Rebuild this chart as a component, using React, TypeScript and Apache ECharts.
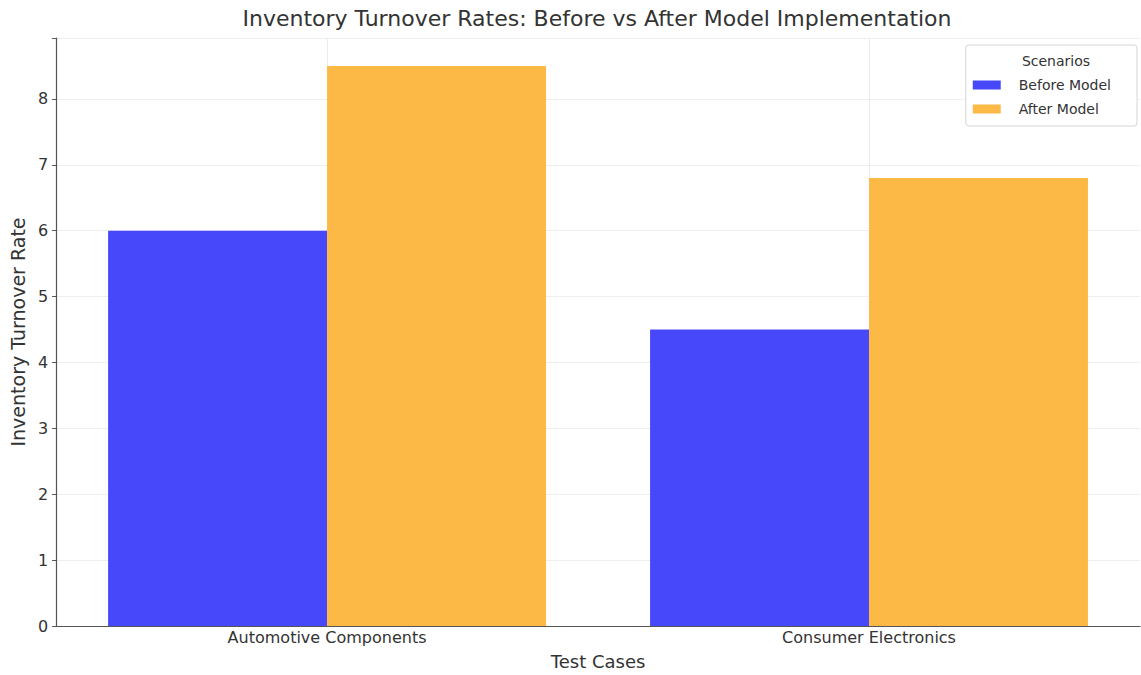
import React, { useEffect, useRef } from "react";
import * as echarts from "echarts";

const categories = ["Automotive Components", "Consumer Electronics"];
const beforeModel = [6.0, 4.5];
const afterModel = [8.5, 6.8];
const seriesNames = ["Before Model", "After Model"];
const yTicks = [0, 1, 2, 3, 4, 5, 6, 7, 8];

const FONT = "DejaVu Sans";

export default function App() {
  const ref = useRef<HTMLDivElement>(null);

  useEffect(() => {
    if (!ref.current) return;
    const chart = echarts.init(ref.current, undefined, { renderer: "svg" });
    const yMax = 8.925;
    chart.setOption({
      animation: false,
      backgroundColor: "#ffffff",
      textStyle: { fontFamily: FONT },
      title: {
        text: "Inventory Turnover Rates: Before vs After Model Implementation",
        left: 597,
        textAlign: "center",
        top: 7,
        padding: 0,
        textStyle: { fontFamily: FONT, fontSize: 22, fontWeight: "normal", color: "#333" },
      },
      legend: {
        data: seriesNames,
        orient: "vertical",
        right: 4,
        top: 45,
        padding: [33, 26, 10, 7],
        itemGap: 10,
        itemWidth: 28,
        itemHeight: 9,
        icon: "rect",
        borderColor: "#d6d6d6",
        borderWidth: 1,
        borderRadius: 3,
        backgroundColor: "rgba(255,255,255,0.85)",
        textStyle: { fontFamily: FONT, fontSize: 14, color: "#333", padding: [0, 0, 0, 13] },
      },
      graphic: [
        {
          type: "text",
          x: 1056,
          y: 61,
          z: 100,
          style: {
            text: "Scenarios",
            align: "center",
            verticalAlign: "middle",
            fontFamily: FONT,
            fontSize: 14,
            fill: "#333",
          },
        },
      ],
      grid: { left: 55, right: 1, top: 38, bottom: 49 },
      xAxis: {
        type: "category",
        data: categories,
        name: "Test Cases",
        nameLocation: "middle",
        nameGap: 26,
        nameTextStyle: { fontFamily: FONT, fontSize: 18, color: "#333" },
        axisLine: { lineStyle: { color: "#555", width: 1.2 } },
        axisTick: { alignWithLabel: true, length: 4, lineStyle: { color: "#555" } },
        axisLabel: { fontFamily: FONT, fontSize: 16, color: "#333", margin: 3 },
        splitLine: { show: false },
      },
      yAxis: {
        type: "value",
        min: 0,
        max: yMax,
        interval: 1,
        name: "Inventory Turnover Rate",
        nameLocation: "middle",
        nameGap: 28,
        nameTextStyle: { fontFamily: FONT, fontSize: 19, color: "#333" },
        axisLine: { show: true, lineStyle: { color: "#555", width: 1.2 } },
        axisTick: { show: true, length: 4, lineStyle: { color: "#555" } },
        axisLabel: {
          fontFamily: FONT,
          fontSize: 16,
          color: "#333",
          margin: 8,
          formatter: (v: number) => (yTicks.includes(v) ? String(v) : ""),
        },
        splitLine: { show: true, lineStyle: { color: "#efefef", width: 1 } },
      },
      series: [
        {
          // carries the vertical grid lines at each category centre
          name: "grid",
          type: "line",
          data: [],
          silent: true,
          z: 1,
          markLine: {
            silent: true,
            symbol: "none",
            z: 1,
            label: { show: false },
            lineStyle: { color: "#ececec", type: "solid", width: 1 },
            data: categories.map((c) => ({ xAxis: c })),
          },
        },
        {
          name: seriesNames[0],
          type: "bar",
          data: beforeModel,
          barWidth: "40.4%",
          barGap: "0%",
          z: 2,
          itemStyle: { color: "#4848fb" },
        },
        {
          name: seriesNames[1],
          type: "bar",
          data: afterModel,
          barWidth: "40.4%",
          barGap: "0%",
          z: 2,
          itemStyle: { color: "#fdb946" },
        },
      ],
    });
    return () => chart.dispose();
  }, []);

  return (
    <div
      ref={ref}
      style={{ position: "fixed", left: 0, top: 0, width: 1141, height: 675 }}
    />
  );
}
